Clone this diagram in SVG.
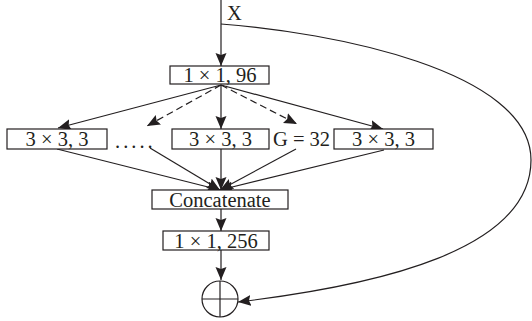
<svg xmlns="http://www.w3.org/2000/svg" width="532" height="321" viewBox="0 0 532 321">
<style>
.box{fill:#fff;stroke:#231f20;stroke-width:1.2}
.ln{fill:none;stroke:#231f20;stroke-width:1.2}
.dash{stroke-dasharray:7,4}
text{font-family:"Liberation Serif","Times New Roman",serif;font-size:20.5px;fill:#231f20}
.c{text-anchor:middle}
</style>
<defs>
<marker id="ah" markerUnits="userSpaceOnUse" markerWidth="14" markerHeight="12" refX="13" refY="5.5" orient="auto" viewBox="0 0 14 12">
<path d="M0,0 L13,5.5 L0,11 L2,5.5 z" fill="#231f20"/>
</marker>
</defs>
<g id="connectors">
<line class="ln" x1="221" y1="0" x2="221" y2="66" marker-end="url(#ah)"/>
<path class="ln" d="M221,24 C330,32 531,70 531,160 C531,250 380,285 238,302" marker-end="url(#ah)"/>
<line class="ln" x1="221" y1="85" x2="58" y2="128" marker-end="url(#ah)"/>
<line class="ln dash" x1="221" y1="85" x2="147" y2="126" marker-end="url(#ah)"/>
<line class="ln" x1="221" y1="85" x2="221" y2="129" marker-end="url(#ah)"/>
<line class="ln dash" x1="221" y1="85" x2="297" y2="124" marker-end="url(#ah)"/>
<line class="ln" x1="221" y1="85" x2="383" y2="129" marker-end="url(#ah)"/>
<line class="ln" x1="57" y1="149" x2="220" y2="190" marker-end="url(#ah)"/>
<line class="ln" x1="150" y1="148" x2="220" y2="190" marker-end="url(#ah)"/>
<line class="ln" x1="221" y1="149" x2="221" y2="190" marker-end="url(#ah)"/>
<line class="ln" x1="296" y1="149" x2="220" y2="190" marker-end="url(#ah)"/>
<line class="ln" x1="384" y1="150" x2="220" y2="190" marker-end="url(#ah)"/>
<line class="ln" x1="221" y1="209" x2="221" y2="231" marker-end="url(#ah)"/>
<line class="ln" x1="221" y1="250" x2="221" y2="280" marker-end="url(#ah)"/>
</g>
<g id="input"><text x="227" y="20">X</text></g>
<g id="conv1"><rect class="box" x="170" y="66" width="99" height="18"/><text class="c" x="220" y="82">1 × 1, 96</text></g>
<g id="branch1"><rect class="box" x="7" y="129" width="100" height="20"/><text class="c" x="57" y="145.5">3 × 3, 3</text></g>
<g id="dots"><text x="115" y="148" style="letter-spacing:3px">.....</text></g>
<g id="branch2"><rect class="box" x="172" y="129" width="97" height="20"/><text class="c" x="220.5" y="145.5">3 × 3, 3</text></g>
<g id="groups"><text x="273" y="145.5">G = 32</text></g>
<g id="branch3"><rect class="box" x="334" y="129" width="99" height="20"/><text class="c" x="383.5" y="145.5">3 × 3, 3</text></g>
<g id="concat"><rect class="box" x="152" y="190" width="136" height="19"/><text class="c" x="220" y="206.5">Concatenate</text></g>
<g id="conv2"><rect class="box" x="163" y="231" width="106" height="19"/><text class="c" x="216" y="247.5">1 × 1, 256</text></g>
<g id="add"><circle class="ln" cx="220" cy="299" r="18"/><line class="ln" x1="202" y1="299" x2="238" y2="299"/><line class="ln" x1="220" y1="281" x2="220" y2="317"/></g>
</svg>
